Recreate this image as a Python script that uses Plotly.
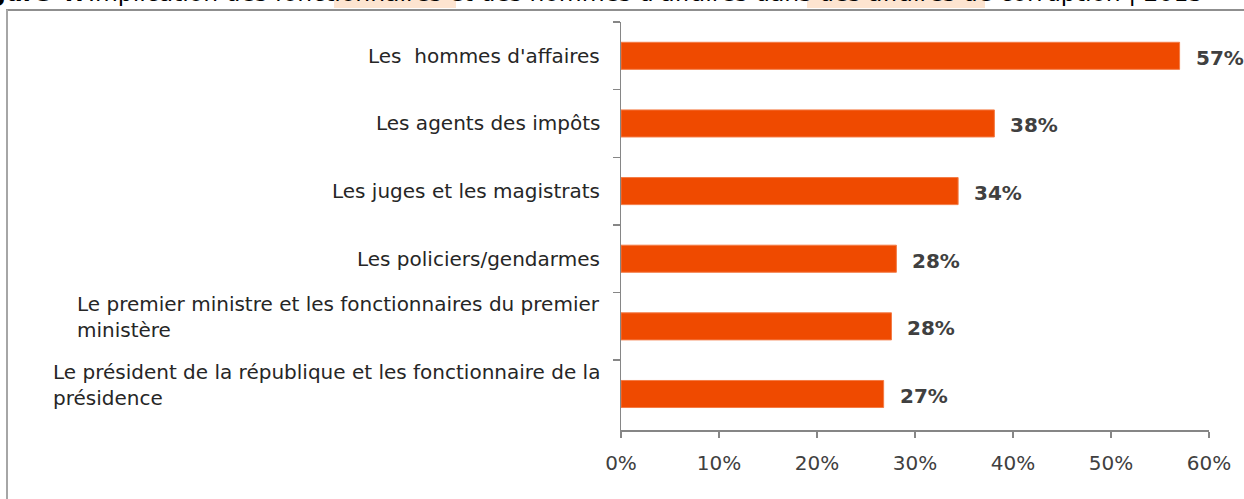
import plotly.graph_objects as go

categories = [
    "Les  hommes d'affaires",
    "Les agents des impôts",
    "Les juges et les magistrats",
    "Les policiers/gendarmes",
    "Le premier ministre et les fonctionnaires du premier<br>ministère",
    "Le président de la république et les fonctionnaire de la<br>présidence",
]
values = [57.0, 38.1, 34.4, 28.1, 27.6, 26.8]
value_labels = ["57%", "38%", "34%", "28%", "28%", "27%"]
x_ticks = [0, 10, 20, 30, 40, 50, 60]
x_tick_labels = ["0%", "10%", "20%", "30%", "40%", "50%", "60%"]
title_bold = "Figure 4:"
title_rest = "Implication des fonctionnaires et des hommes d'affaires dans des affaires de corruption | 2015"

W, H = 1244, 499
L, R, T, B = 621, 1209, 22, 430


def px(X):
    return (X - L) / (R - L)


def py(Y):
    return (B - Y) / (B - T)


FONT = "DejaVu Sans"
TXT = "#262626"

fig = go.Figure()
fig.add_trace(go.Bar(
    y=categories, x=values, orientation="h",
    marker=dict(color="#EF4A00", line=dict(color="#F47B45", width=1)),
    width=0.4, hoverinfo="skip",
))

annotations = []
for c, v, t in zip(categories, values, value_labels):
    annotations.append(dict(
        x=v, y=c, xref="x", yref="y", text="<b>%s</b>" % t, showarrow=False,
        xanchor="left", yanchor="middle", xshift=14, yshift=-2,
        font=dict(family=FONT, size=20, color="#404040"),
    ))
    annotations.append(dict(
        x=0, y=c, xref="paper", yref="y", text=c, showarrow=False,
        xanchor="right", yanchor="middle", align="left", xshift=-19,
        yshift=9 if "<br>" in c else 0,
        font=dict(family=FONT, size=20, color=TXT),
    ))

annotations.append(dict(
    x=px(86), y=py(-7), xref="paper", yref="paper",
    text="<b>%s</b>" % title_bold, showarrow=False,
    xanchor="right", yanchor="middle",
    font=dict(family=FONT, size=23.5, color="#000000"),
))
annotations.append(dict(
    x=px(86), y=py(-7), xref="paper", yref="paper",
    text=title_rest, showarrow=False,
    xanchor="left", yanchor="middle",
    font=dict(family=FONT, size=23.5, color="#000000"),
))

shapes = [
    dict(type="rect", xref="paper", yref="paper", x0=px(334), x1=px(456), y0=py(8), y1=py(-20),
         fillcolor="#FDE4D0", line=dict(width=0), layer="below"),
    dict(type="rect", xref="paper", yref="paper", x0=px(807), x1=px(985), y0=py(8), y1=py(-20),
         fillcolor="#FDE4D0", line=dict(width=0), layer="below"),
    dict(type="rect", xref="paper", yref="paper", x0=px(6), x1=px(1300), y0=py(9), y1=py(11),
         fillcolor="#8F8F8F", line=dict(width=0), layer="above"),
    dict(type="line", xref="paper", yref="paper", x0=px(7), x1=px(7), y0=py(9.5), y1=py(520),
         line=dict(color="#A6A6A6", width=2), layer="above"),
]

fig.update_layout(
    width=W, height=H,
    margin=dict(l=L, r=W - R, t=T, b=H - B, pad=0),
    paper_bgcolor="white", plot_bgcolor="white",
    showlegend=False,
    annotations=annotations, shapes=shapes,
    bargap=0.6,
)
fig.update_xaxes(
    range=[0, 60], tickvals=x_ticks, ticktext=x_tick_labels,
    showgrid=False, zeroline=False,
    showline=True, linecolor="#868686", linewidth=1.5,
    ticks="outside", ticklen=6, tickcolor="#868686", tickwidth=1.5,
    ticklabelstandoff=8,
    tickfont=dict(family=FONT, size=20, color="#404040"),
)
fig.update_yaxes(
    autorange="reversed", showticklabels=False, showgrid=False, zeroline=False,
    showline=True, linecolor="#868686", linewidth=1.5,
    ticks="outside", ticklen=7, tickcolor="#868686", tickwidth=1.5,
    tickson="boundaries",
)

fig.write_html(
    "out.html",
    config={"displayModeBar": False, "staticPlot": True},
    post_script="document.body.style.margin='0';document.body.style.overflow='hidden';",
)
